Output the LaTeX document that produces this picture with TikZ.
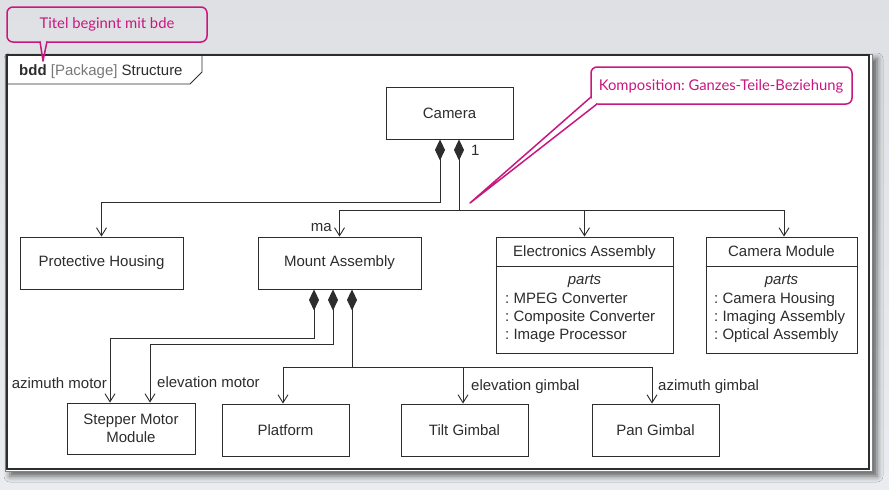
\documentclass[tikz,border=0pt]{standalone}
\usepackage{fontspec}
\setmainfont{Liberation Sans}
\newfontfamily\callfont{Lato}
\usetikzlibrary{arrows.meta,shadows.blur}
\definecolor{bgtop}{RGB}{222,224,228}
\definecolor{bgbot}{RGB}{234,236,239}
\definecolor{ink}{RGB}{45,45,45}
\definecolor{mag}{RGB}{200,24,128}
\definecolor{pkg}{RGB}{120,120,120}
\frenchspacing
\begin{document}
\begin{tikzpicture}[x=1pt,y=-1pt,
  font=\fontsize{15}{18}\selectfont, text=ink,
  blk/.style={draw=ink, line width=0.9pt, minimum width=#1, minimum height=52pt, inner sep=0pt, align=center, fill=white},
  lbl/.style={inner sep=0pt, text height=11pt, text depth=3pt},
  conn/.style={draw=ink, line width=0.9pt},
  arr/.style={conn, -{Straight Barb[length=8pt,width=10pt]}},
  comp/.style={conn, {Diamond[length=21pt,width=10pt]}-{Straight Barb[length=8pt,width=10pt]}},
  dia/.style={conn, {Diamond[length=21pt,width=10pt]}-},
  callout/.style={draw=mag, line width=1.5pt, rounded corners=6pt},
  calltext/.style={text=mag, font=\callfont\fontsize{14.8}{17}\selectfont, inner sep=0pt}
]
\useasboundingbox (0,0) rectangle (889,490);
\shade[top color=bgtop, bottom color=bgbot] (0,0) rectangle (889,490);

% frame
\fill[white, blur shadow={shadow xshift=5pt, shadow yshift=-5pt, shadow blur radius=6pt, shadow opacity=60}] (5,54) rectangle (872,471);
\draw[ink!60, line width=0.6pt] (5,54) rectangle (872,471);
\draw[ink, line width=1.1pt] (7,55) rectangle (869,469);
\draw[ink, line width=0.9pt] (7,84) -- (190,84) -- (202,72) -- (202,55);
\node[anchor=west, lbl] (title) at (19,71) {\textbf{bdd} \textcolor{pkg}{[Package]} Structure};

% blocks
\node[blk=127pt] (cam) at (449.5,113) {Camera};
\node[blk=163pt] (ph) at (101.5,263) {Protective Housing};
\node[blk=163pt] (ma) at (339.5,263) {Mount Assembly};
\node[blk=177pt, minimum height=116pt] (ea) at (584.5,295) {};
\node[blk=151pt, minimum height=116pt] (cmod) at (781.5,295) {};
\draw[conn] ([yshift=-30pt]ea.north west) -- ([yshift=-30pt]ea.north east);
\draw[conn] ([yshift=-30pt]cmod.north west) -- ([yshift=-30pt]cmod.north east);
\node[lbl] (eat) at (584.5,252) {Electronics Assembly};
\node[lbl] (eap) at (584.5,280) {\textit{parts}};
\node[lbl, anchor=west] (ea1) at (505,299) {: MPEG Converter};
\node[lbl, anchor=west] (ea2) at (505,317) {: Composite Converter};
\node[lbl, anchor=west] (ea3) at (505,335) {: Image Processor};
\node[lbl] (cmt) at (781.5,252) {Camera Module};
\node[lbl] (cmp) at (781.5,280) {\textit{parts}};
\node[lbl, anchor=west] (cm1) at (714,299) {: Camera Housing};
\node[lbl, anchor=west] (cm2) at (714,317) {: Imaging Assembly};
\node[lbl, anchor=west] (cm3) at (714,335) {: Optical Assembly};
\node[blk=128pt, minimum height=51pt] (smm) at (131,428.5) {Stepper Motor\\Module};
\node[blk=127pt] (pf) at (285.5,430) {Platform};
\node[blk=127pt] (tg) at (464.5,430) {Tilt Gimbal};
\node[blk=127pt] (pg) at (655.5,430) {Pan Gimbal};

% composition connectors from Camera
\draw[comp] ([xshift=-9.5pt]cam.south) -- ++(0,63) -| (ph.north);
\draw[dia] ([xshift=9.5pt]cam.south) -- ++(0,71) coordinate (j1);
\draw[arr] (j1) -| (ma.north);
\draw[arr] (j1) -| (ea.north);
\draw[arr] (j1) -| ([xshift=2.5pt]cmod.north);

% composition connectors from Mount Assembly
\draw[comp] ([xshift=-25.5pt]ma.south) -- ++(0,49) -| ([xshift=-21pt]smm.north);
\draw[comp] ([xshift=-6.5pt]ma.south) -- ++(0,55) -| ([xshift=19pt]smm.north);
\draw[dia] ([xshift=12.5pt]ma.south) -- ++(0,78) coordinate (j2);
\draw[arr] (j2) -| ([xshift=-2.5pt]pf.north);
\draw[arr] (j2) -| ([xshift=-1.5pt]tg.north);
\draw[arr] (j2) -| ([xshift=-3.5pt]pg.north);

% role labels
\node[lbl, anchor=east] (lma) at (332,227) {ma};
\node[lbl, anchor=west] (lone) at (471,151) {1};
\node[lbl, anchor=east] (laz) at (107,384) {azimuth motor};
\node[lbl, anchor=west] (lel) at (157,383) {elevation motor};
\node[lbl, anchor=west] (leg) at (471,386) {elevation gimbal};
\node[lbl, anchor=west] (lag) at (658,386) {azimuth gimbal};

% callout: title
\draw[callout] (7,7) rectangle (207,42);
\fill[bgtop] (40.5,40.5) -- (46.5,40.5) -- (46,44) -- (41,44) -- cycle;
\coordinate (tip1) at (43,61);
\draw[mag, line width=1.5pt, line join=round] (40,41.5) -- (tip1) -- (47,41.5);
\node[calltext] (c1) at (107,24) {Titel beginnt mit bde};

% callout: composition
\draw[callout] (591,67) rectangle (852,104);
\fill[white] (589,96) -- (589,105.5) -- (598,105.5) -- cycle;
\coordinate (tip2) at (470,203);
\draw[mag, line width=1.5pt, line join=round] (591,97) -- (tip2) -- (597,104);
\node[calltext] (c2) at (721,86) {Komposition: Ganzes-Teile-Beziehung};
\end{tikzpicture}
\end{document}
